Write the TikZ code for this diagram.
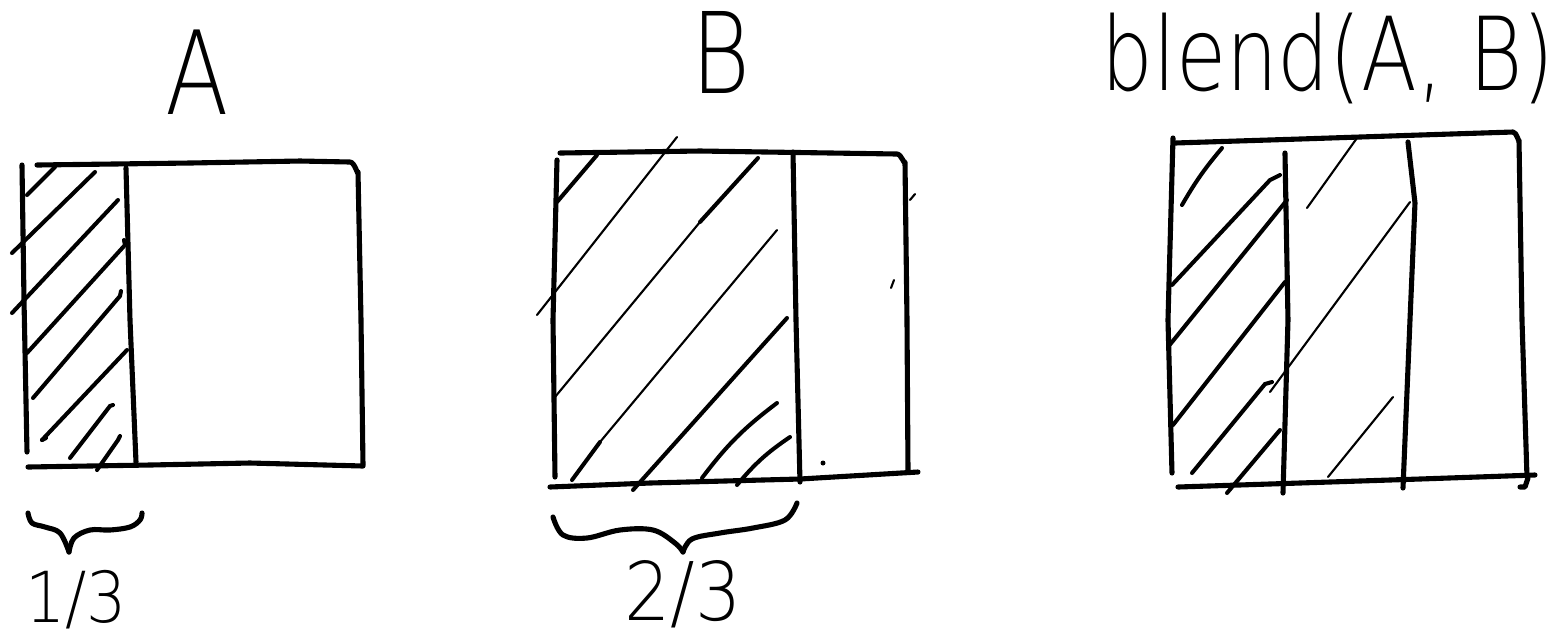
\documentclass[tikz,border=0pt]{standalone}
\usepackage{fontspec}
\setmainfont{Liberation Sans}
\newfontfamily\hand{DejaVu Sans ExtraLight}
\begin{document}
\begin{tikzpicture}[x=0.01cm,y=-0.01cm,
  pen/.style={line width=1.45pt,line cap=round,line join=round},
  hatch/.style={line width=1.15pt,line cap=round},
  thinhatch/.style={line width=0.6pt,line cap=round},
  lbl/.style={inner sep=0pt,outer sep=0pt}]
\useasboundingbox (0,0) rectangle (1565,638);

% ---------- titles ----------
\node[lbl,xscale=0.8,font=\hand\fontsize{33}{33}\selectfont] (tA) at (197,72) {A};
\node[lbl,xscale=0.8,font=\hand\fontsize{32}{32}\selectfont] (tB) at (721,52) {B};
\node[lbl,anchor=base,xscale=0.8,font=\hand\fontsize{29}{29}\selectfont] (tC) at (1328,90) {blend(A, B)};

% ---------- panel A ----------
\draw[pen] (22,165) -- (24,300) -- (27,452);
\draw[pen] (37,165) -- (190,163) -- (300,161) -- (350,162) to[out=0,in=-90] (358,172) -- (361,320) -- (363,465);
\draw[pen] (28,467) -- (150,465) -- (250,463) -- (363,466);
\draw[pen] (126,168) -- (130,320) -- (136,462);
\draw[hatch] (27,195) -- (55,167);
\draw[hatch] (12,253) -- (95,172);
\draw[hatch] (12,313) -- (118,200);
\draw[hatch] (27,353) -- (125,245) -- (124,240);
\draw[hatch] (33,398) -- (120,296) -- (121,291);
\draw[hatch] (42,440) -- (127,350);
\draw[hatch] (42,440) -- (46,438);
\draw[hatch] (70,458) -- (110,406) -- (113,405);
\draw[hatch] (97,470) -- (118,440) -- (120,436);

% brace and fraction under A
\draw[pen] plot[smooth,tension=0.6] coordinates {(28,513) (32,523) (45,527) (60,533) (69,552)};
\draw[pen] plot[smooth,tension=0.6] coordinates {(69,552) (74,538) (90,530) (110,530) (130,527) (140,520) (142,513)};
\node[lbl,anchor=base,xscale=0.9,font=\hand\fontsize{20}{20}\selectfont] (fA) at (76,622) {1/3};

% ---------- panel B ----------
\draw[pen] (557,160) -- (553,320) -- (555,477);
\draw[pen] (560,153) -- (700,151) -- (897,154) to[out=0,in=-90] (905,162) -- (907,320) -- (908,470);
\draw[pen] (550,487) -- (650,483) -- (800,479) -- (918,472);
\draw[pen] (793,152) -- (796,320) -- (800,482);
\draw[hatch] (557,202) -- (597,155);
\draw[thinhatch] (537,315) -- (677,137);
\draw[thinhatch] (555,397) -- (700,222);
\draw[hatch] (700,222) -- (758,158);
\draw[hatch] (572,480) -- (600,442);
\draw[thinhatch] (600,442) -- (777,230);
\draw[hatch] (633,490) -- (787,318);
\draw[hatch] (702,478) to[bend left=8] (777,403);
\draw[hatch] (737,485) to[bend left=8] (790,437);
\draw[thinhatch] (891,288) -- (894,280);
\draw[thinhatch] (910,200) -- (915,194);
\fill (823,463) circle (2.5);

% brace and fraction under B
\draw[pen] plot[smooth,tension=0.6] coordinates {(553,517) (563,535) (587,538) (620,530) (653,530) (675,543) (683,552)};
\draw[pen] plot[smooth,tension=0.6] coordinates {(683,552) (692,539) (720,533) (753,528) (785,520) (797,503)};
\node[lbl,anchor=base,xscale=0.9,font=\hand\fontsize{23}{23}\selectfont] (fB) at (683,620) {2/3};

% ---------- panel C ----------
\draw[pen] (1173,138) -- (1168,320) -- (1172,473);
\draw[pen] (1175,143) -- (1300,139) -- (1420,135) -- (1513,132) to[out=0,in=-90] (1519,140) -- (1522,320) -- (1527,477);
\draw[pen] (1178,487) -- (1300,483) -- (1420,479) -- (1535,475);
\draw[pen] (1528,478) -- (1525,487) -- (1520,487);
\draw[pen] (1285,153) -- (1288,320) -- (1283,493);
\draw[pen] (1408,142) -- (1415,203) -- (1410,320) -- (1403,488);
\draw[hatch] (1182,205) to[bend left=5] (1222,148);
\draw[hatch] (1172,285) -- (1270,180) -- (1280,175);
\draw[hatch] (1168,347) -- (1287,200);
\draw[hatch] (1173,425) -- (1285,282);
\draw[hatch] (1192,473) -- (1265,384) -- (1272,382);
\draw[hatch] (1227,493) -- (1280,430);
\draw[thinhatch] (1307,208) -- (1357,138);
\draw[thinhatch] (1270,392) -- (1410,202);
\draw[thinhatch] (1328,477) -- (1393,397);
\end{tikzpicture}
\end{document}
